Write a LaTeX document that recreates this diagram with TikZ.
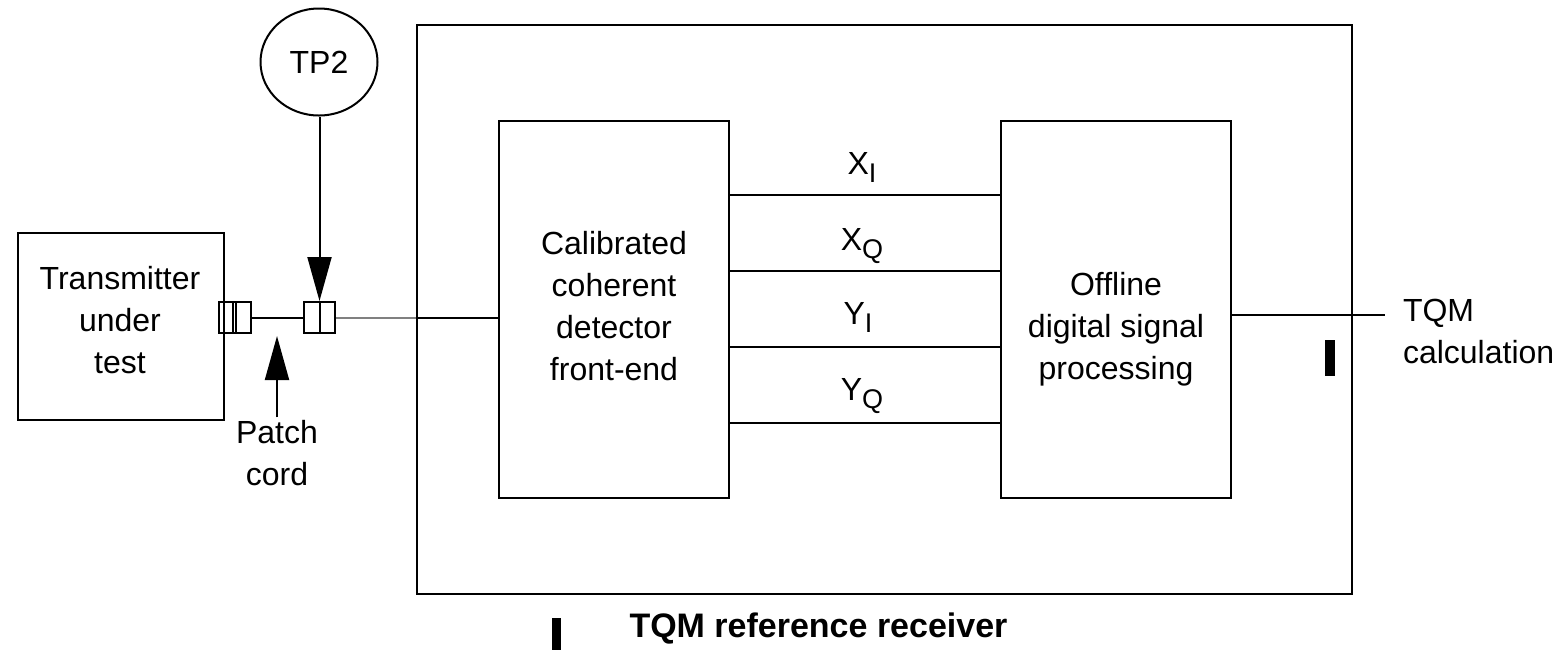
\documentclass[tikz,border=0pt]{standalone}
\usepackage{fontspec}
\setmainfont{Liberation Sans}
\usetikzlibrary{arrows.meta,shapes.geometric}
\newcommand\mysubs[1]{\raisebox{-4pt}{\fontsize{13.5}{14}\selectfont #1}}
\begin{document}
\begin{tikzpicture}[x=0.5pt,y=-0.5pt, line width=1pt,
  box/.style={draw, rectangle, inner sep=0pt},
  lbl/.style={font=\fontsize{16}{21}\selectfont, align=center, inner sep=0pt},
  sig/.style={font=\fontsize{16}{21}\selectfont, anchor=base, inner sep=0pt},
  arr/.style={-{Triangle[length=22pt,width=12pt]}},
  bar/.style={fill=black, draw=none}]
\useasboundingbox (0,0) rectangle (1562,650);

% boxes
\node[box, minimum width=103pt, minimum height=93.5pt] (tx) at (121,326.5) {};
\node[lbl] (txtext) at (120,320) {Transmitter\\under\\test};
\node[box, minimum width=467.5pt, minimum height=284.5pt] (outer) at (884.5,309.5) {};
\node[box, minimum width=115pt, minimum height=188.5pt] (cal) at (614,309.5) {};
\node[lbl] (caltext) at (614,306) {Calibrated\\coherent\\detector\\front-end};
\node[box, minimum width=115pt, minimum height=188.5pt] (dsp) at (1116,309.5) {};
\node[lbl] (dsptext) at (1116,329) {Offline\\digital signal\\processing};
\node[draw, ellipse, minimum width=58.5pt, minimum height=53.5pt, lbl] (tp2) at (319,62) {TP2};

% connectors
\node[box, minimum width=16pt, minimum height=15.5pt] (conn1) at (235,317.5) {};
\node[box, minimum width=15.5pt, minimum height=15.5pt] (conn2) at (319.5,317.5) {};
\draw (233,302) -- (233,333);
\draw (236,302) -- (236,333);
\draw (conn2.north) -- (conn2.south);

\draw (conn1.east) -- (conn2.west);
\draw[gray] (conn2.east) -- (conn2.east -| outer.west);
\draw (conn2.east -| outer.west) -- (conn2.east -| cal.west);

% TP2 arrow
\draw[arr] (tp2.south -| conn2.north) -- (conn2.north);

% patch cord
\node[lbl] (patch) at (277,453) {Patch\\cord};
\coordinate (ptip) at (277,336);
\draw[arr] (patch.north) ++(0,-2) -- (ptip);

% signal lines
\foreach \yy/\nm in {195/l1,271/l2,347/l3,423/l4}{
  \coordinate (\nm) at (0,\yy);
  \draw (\nm -| cal.east) -- (\nm -| dsp.west);
}
\node[sig] (xi) at (862,174) {X\mysubs{I}};
\node[sig] (xq) at (862,250) {X\mysubs{Q}};
\node[sig] (yi) at (858,324) {Y\mysubs{I}};
\node[sig] (yq) at (862,400) {Y\mysubs{Q}};

% output
\coordinate (oend) at (1385,315);
\draw (oend -| dsp.east) -- (oend);
\node[lbl, align=left, anchor=west] (tqm) at (1402,331) {TQM\\calculation};

% caption
\node[font=\fontsize{17}{20}\selectfont\bfseries, inner sep=0pt] (cap) at (818.5,629) {TQM reference receiver};

% change bars
\fill[bar] (1325,340) rectangle (1335,376);
\fill[bar] (552,618) rectangle (561,650);
\end{tikzpicture}
\end{document}
